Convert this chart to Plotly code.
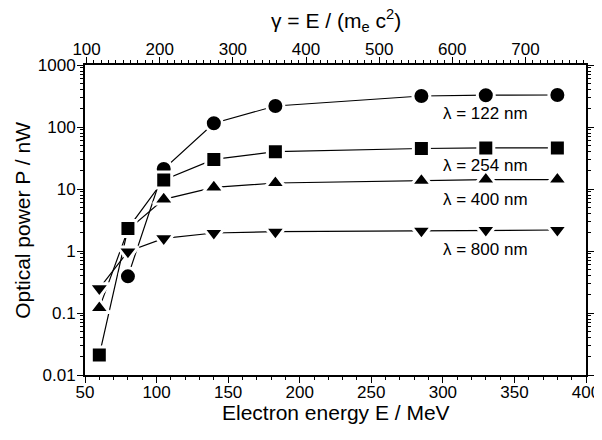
import numpy as np
import plotly.graph_objects as go

# Electron energies (MeV)
energy = [60, 80, 105, 140, 183, 285, 330, 380]
energy_122 = [80, 105, 140, 183, 285, 330, 380]

# Optical power (nW)
p_122 = [0.39, 21, 115, 218, 316, 326, 328]
p_254 = [0.021, 2.3, 14, 30, 40, 45, 46, 46]
p_400 = [0.12, 2.2, 6.8, 10.6, 12.5, 13.6, 14.2, 14.2]
p_800 = [0.25, 0.98, 1.6, 1.95, 2.05, 2.12, 2.18, 2.18]

labels = ["λ = 122 nm", "λ = 254 nm", "λ = 400 nm", "λ = 800 nm"]
label_x = [330, 330, 330, 330]
label_y = [168, 23.5, 6.65, 1.04]

ME_C2 = 0.511  # MeV

FONT = "Liberation Sans, Arial, sans-serif"

series = [
    (energy_122, p_122, "circle", 17),
    (energy, p_400, "triangle-up", 18),
    (energy, p_800, "triangle-down", 18),
    (energy, p_254, "square", 16),
]

fig = go.Figure()
for xs, ys, sym, sz in series:
    fig.add_trace(go.Scatter(x=xs, y=ys, mode="lines",
                             line=dict(color="black", width=1.2),
                             showlegend=False, hoverinfo="skip"))
for xs, ys, sym, sz in series:
    fig.add_trace(go.Scatter(x=xs, y=ys, mode="markers",
                             marker=dict(symbol=sym, size=sz, color="black",
                                         line=dict(color="white", width=3)),
                             showlegend=False))

# trace carrying the top gamma axis
fig.add_trace(go.Scatter(x=[50 / ME_C2, 400 / ME_C2], y=[1, 1], xaxis="x2",
                         mode="markers", marker=dict(opacity=0),
                         showlegend=False, hoverinfo="skip"))

for t, lx, ly in zip(labels, label_x, label_y):
    fig.add_annotation(x=lx, y=np.log10(ly), text=t, showarrow=False,
                       font=dict(family=FONT, size=17, color="black"))

# axis titles
title_font = dict(family=FONT, size=21, color="black")
fig.add_annotation(xref="paper", yref="paper", x=0.5, y=-0.122,
                   text="Electron energy E / MeV", showarrow=False,
                   font=title_font, yanchor="middle")
fig.add_annotation(xref="paper", yref="paper", x=0.5, y=1.145,
                   text="γ = E / (m<sub>e</sub> c<sup>2</sup>)", showarrow=False,
                   font=title_font, yanchor="middle")
fig.add_annotation(xref="paper", yref="paper", x=-0.126, y=0.5,
                   text="Optical power P / nW", showarrow=False, textangle=-90,
                   font=title_font, xanchor="center")

axis_common = dict(showgrid=False, zeroline=False, showline=True,
                   linecolor="black", linewidth=2, ticks="outside",
                   tickcolor="black", tickwidth=1, ticklen=6, automargin=False,
                   tickfont=dict(family=FONT, size=17, color="black"))

# the page body adds an 8 px offset, so the figure is sized to compensate
fig.update_layout(
    width=594, height=432,
    margin=dict(l=77, r=16, t=57, b=65),
    paper_bgcolor="white", plot_bgcolor="white",
    xaxis=dict(range=[50, 400], dtick=50, tick0=50, mirror=False,
               ticklabelstandoff=-5,
               minor=dict(ticks="outside", ticklen=3, dtick=10, tickcolor="black"),
               **axis_common),
    xaxis2=dict(range=[50 / ME_C2, 400 / ME_C2], overlaying="x", side="top",
                dtick=100, tick0=0, ticklabelstandoff=-5,
                minor=dict(ticks="outside", ticklen=3, dtick=10, tickcolor="black"),
                **axis_common),
    yaxis=dict(type="log", range=[-2, 3], dtick=1, exponentformat="none",
               mirror="ticks", ticklabelstandoff=-2,
               minor=dict(ticks="outside", ticklen=3, dtick="D1", tickcolor="black"),
               **axis_common),
)

fig.write_html("out.html")
